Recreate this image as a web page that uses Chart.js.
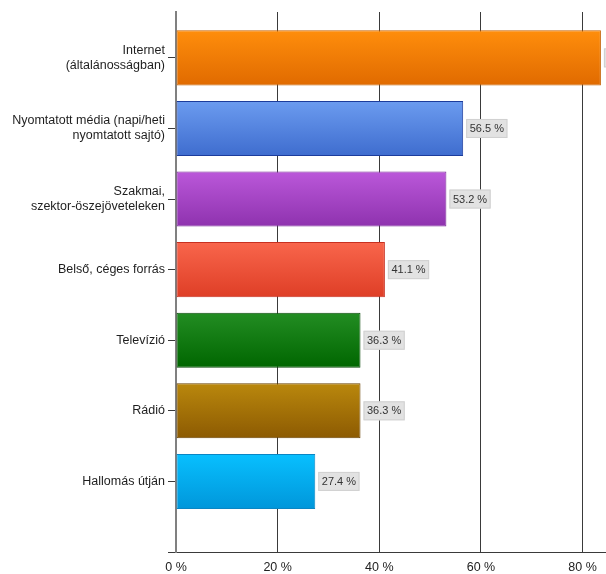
<!DOCTYPE html>
<html>
<head>
<meta charset="utf-8">
<script src="https://cdn.jsdelivr.net/npm/chart.js@4/dist/chart.umd.min.js"></script>
<style>
  html, body { margin: 0; padding: 0; background: #fff; overflow: hidden; }
  #chartHolder { width: 606px; height: 574px; }
</style>
</head>
<body>
<div id="chartHolder"><canvas id="myChart" width="606" height="574"></canvas></div>
<script>
// categories (multi-line labels as arrays) and their shares in percent
const categories = [
    ['Internet', '(általánosságban)'],
    ['Nyomtatott média (napi/heti', 'nyomtatott sajtó)'],
    ['Szakmai,', 'szektor-öszejöveteleken'],
    'Belső, céges forrás',
    'Televízió',
    'Rádió',
    'Hallomás útján'
]
const shares = [83.6, 56.5, 53.2, 41.1, 36.3, 36.3, 27.4]
const xTicks = [0, 20, 40, 60, 80]

// bar gradient colours, top -> bottom, plus the edge colour
const barTop = ['#ff8e0c', '#6c9cf0', '#bb58da', '#f9664c', '#238d23', '#ba880d', '#08c0ff']
const barBottom = ['#e06a00', '#3e6cce', '#8e32ae', '#de3e26', '#006600', '#8c5a02', '#0096da']
const barEdge = ['#c46000', '#1c3c9c', '#7a2a98', '#c83020', '#0a4a0a', '#6a4200', '#0a86c4']

const pctFormat = v => v.toFixed(1) + ' %'

//gradient per bar, built from the bar's own pixel position on the y scale
function barFill(ctx){
    let i = ctx.dataIndex
    let chart = ctx.chart
    if(!chart.chartArea || !chart.scales.y) return barTop[i]
    let yc = chart.scales.y.getPixelForValue(i)
    let g = chart.ctx.createLinearGradient(0, yc - 28, 0, yc + 28)
    g.addColorStop(0, barTop[i])
    g.addColorStop(1, barBottom[i])
    return g
}

//grey value boxes to the right of each bar
const valueBoxes = {
    id: 'valueBoxes',
    afterDatasetsDraw(chart){
        let c = chart.ctx
        let meta = chart.getDatasetMeta(0)
        c.save()
        c.font = '11px "Liberation Sans", Arial, sans-serif'
        c.textBaseline = 'middle'
        meta.data.forEach((bar, i) => {
            let txt = pctFormat(shares[i])
            let w = c.measureText(txt).width + 7
            let x = bar.x + 3
            let y = bar.y - 9.5
            c.fillStyle = '#e2e2e2'
            c.fillRect(x, y, w, 19)
            c.strokeStyle = '#d0d0d0'
            c.lineWidth = 1
            c.strokeRect(x + 0.5, y + 0.5, w - 1, 18)
            c.fillStyle = '#333'
            c.fillText(txt, x + 3.5, bar.y + 0.5)
        })
        c.restore()
    }
}

let chartCtx = document.getElementById('myChart').getContext('2d')
let chart1 = new Chart(chartCtx, {
    type: 'bar',
    data: {
        datasets: [{
            data: shares.map((v, i) => ({x: v, y: i})),
            backgroundColor: barFill,
            borderColor: barEdge,
            borderWidth: 1,
            borderSkipped: false,
            barPercentage: 0.78,
            categoryPercentage: 1
        }]
    },
    options: {
        indexAxis: 'y',
        responsive: false,
        animation: false,
        layout: { padding: { top: 12, left: 0, right: 0, bottom: 0 } },
        plugins: {
            legend: { display: false },
            tooltip: { enabled: false },
            title: { display: false }
        },
        scales: {
            x: {
                type: 'linear',
                min: 0,
                max: 84.6,
                afterBuildTicks: scale => { scale.ticks = xTicks.map(v => ({value: v})) },
                afterFit: scale => { scale.height = 22 },
                ticks: {
                    padding: 8,
                    maxRotation: 0,
                    color: '#222',
                    font: { family: '"Liberation Sans", Arial, sans-serif', size: 12.5 },
                    callback: v => v + ' %'
                },
                grid: { color: '#3a3a3a', lineWidth: 1, drawTicks: false },
                border: { color: '#3a3a3a', width: 1 }
            },
            y: {
                type: 'linear',
                reverse: true,
                offset: false,
                bounds: 'data',
                min: -0.65,
                max: 7,
                afterBuildTicks: scale => { scale.ticks = [0, 1, 2, 3, 4, 5, 6, 7].map(v => ({value: v})) },
                afterFit: scale => { scale.width = 176 },
                ticks: {
                    padding: 3,
                    color: '#1e1e1e',
                    font: { family: '"Liberation Sans", Arial, sans-serif', size: 12.5 },
                    callback: v => categories[v] !== undefined ? categories[v] : ''
                },
                grid: { offset: false, drawOnChartArea: false, drawTicks: true, tickLength: 8, color: '#3a3a3a', lineWidth: 1 },
                border: { color: '#808080', width: 2 }
            }
        }
    },
    plugins: [valueBoxes]
})
</script>
</body>
</html>
